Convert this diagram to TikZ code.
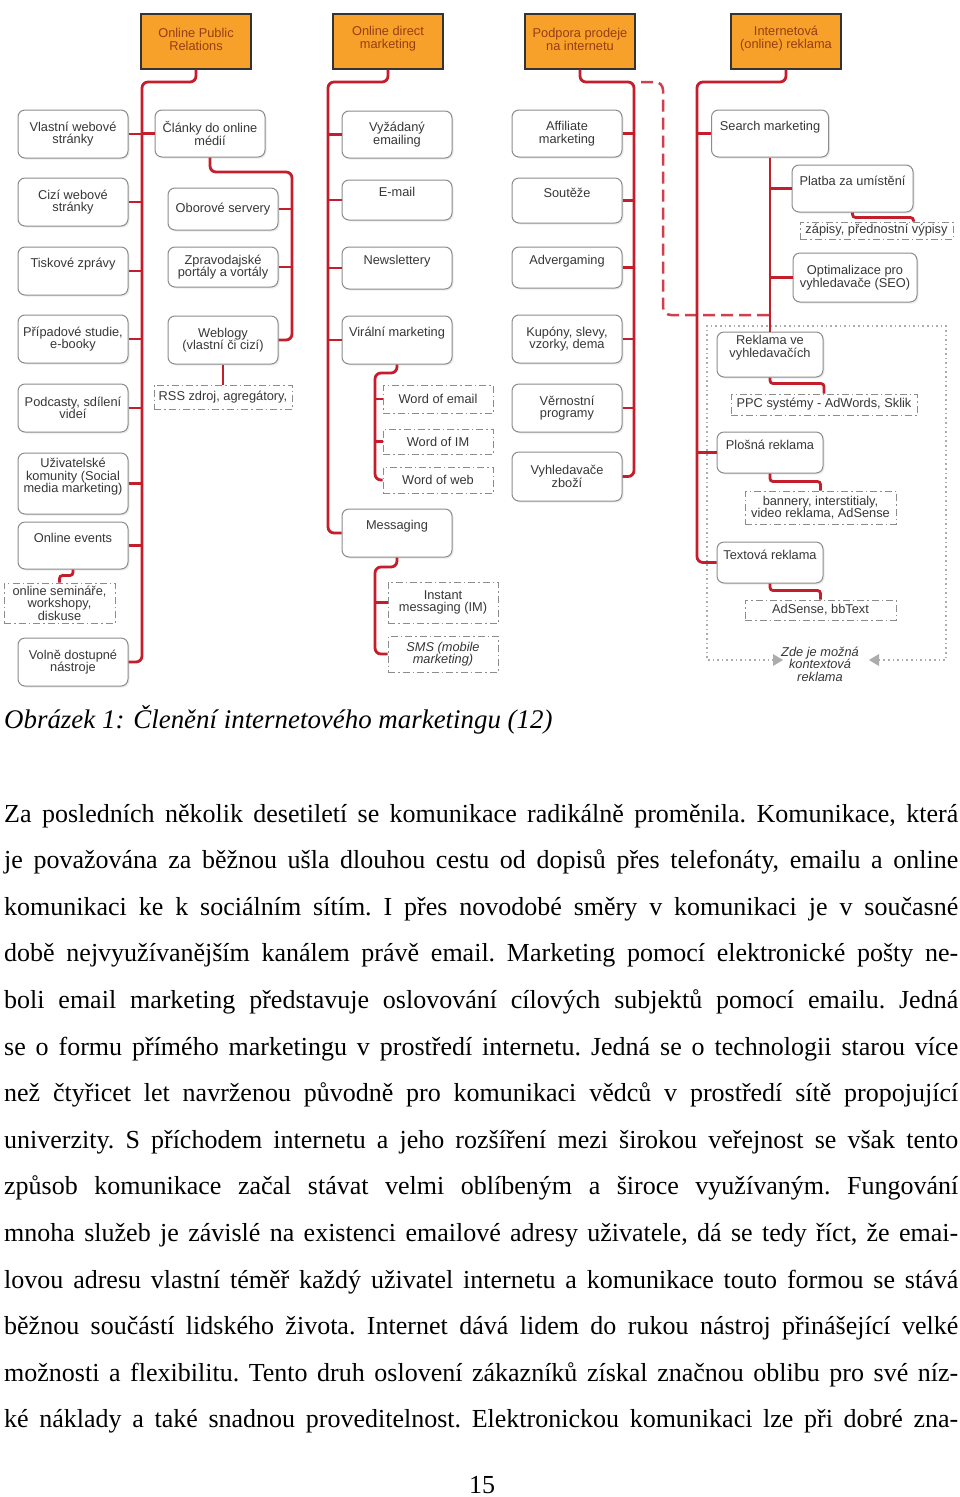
\documentclass[tikz,border=0pt]{standalone}
\usepackage{fontspec}
\setmainfont{Liberation Serif}
\newfontfamily\dfont{Liberation Sans}
\newfontfamily\bodyf{Liberation Serif}
\usetikzlibrary{shadows,calc}
\definecolor{hdr}{RGB}{247,160,42}
\definecolor{hdrtxt}{RGB}{150,62,20}
\definecolor{redl}{RGB}{196,30,45}
\definecolor{boxd}{RGB}{140,140,140}
\definecolor{dtxt}{RGB}{55,55,55}
\newcommand\bodyline[2]{\node[bodyl] (l#1) at (4,{822+46.6*(#1-1)}) {\frenchspacing\makebox[954pt][s]{#2}};}
\begin{document}
\begin{tikzpicture}[x=1pt,y=-1pt,
  hbox/.style={rectangle, draw=black!80, line width=1.3pt, fill=hdr, minimum width=110pt, minimum height=55pt, inner sep=0pt},
  htext/.style={inner sep=0pt, align=center, text=hdrtxt, font=\dfont\fontsize{12.8}{13}\selectfont, yshift=2.5pt},
  bx/.style={rectangle, rounded corners=7pt, draw=boxd, line width=1pt, fill=white, minimum width=110pt, inner sep=0pt, align=center, text=dtxt, font=\dfont\fontsize{12.8}{12.5}\selectfont, drop shadow={opacity=0.15, shadow xshift=1.5pt, shadow yshift=-1.5pt}},
  dbx/.style={rectangle, draw=boxd, line width=1pt, dash pattern=on 7pt off 3pt on 1.5pt off 3pt, fill=white, inner sep=0pt, align=center, text=dtxt, font=\dfont\fontsize{12.8}{12.5}\selectfont},
  conn/.style={draw=redl, line width=2.8pt, rounded corners=6pt},
  sconn/.style={draw=redl, line width=2.8pt, rounded corners=3pt},
  dconn/.style={draw=redl!85, line width=2.5pt, dash pattern=on 12pt off 6pt, rounded corners=8pt},
  bodyl/.style={anchor=base west, inner sep=0pt, font=\bodyf\fontsize{26}{30}\selectfont},
]
\useasboundingbox (0,0) rectangle (960,1497);
\fill[white] (0,0) rectangle (960,1497);

% headers
\node[hbox, label={[htext]center:Online Public\\Relations}] (h1) at (196,41.5) {};
\node[hbox, label={[htext]center:Online direct\\marketing}] (h2) at (388,41.5) {};
\node[hbox, label={[htext]center:Podpora prodeje\\na internetu}] (h3) at (580,41.5) {};
\node[hbox, label={[htext]center:Internetová\\(online) reklama}] (h4) at (786,41.5) {};

% column 1 left
\node[bx, minimum height=48pt] (vw) at (73,134) {Vlastní webové\\stránky};
\node[bx, minimum height=48pt] (cw) at (73,202) {Cizí webové\\stránky};
\node[bx, minimum height=48pt] (tz) at (73,271) {Tiskové zprávy\\\strut};
\node[bx, minimum height=48pt] (ps) at (73,339) {Případové studie,\\e-booky};
\node[bx, minimum height=48pt] (pc) at (73,408) {Podcasty, sdílení\\videí};
\node[bx, minimum height=61pt] (uk) at (73,483.5) {Uživatelské\\komunity (Social\\media marketing)\\\strut};
\node[bx, minimum height=47pt] (oe) at (73,545.5) {Online events\\\strut};
\node[dbx, minimum width=111pt, minimum height=40pt, font=\dfont\fontsize{12.8}{10.5}\selectfont] (os) at (59.5,603) {online semináře,\\workshopy,\\diskuse};
\node[bx, minimum height=48pt] (vd) at (73,662) {Volně dostupné\\nástroje};

% column 1 right
\node[bx, minimum height=47pt] (cl) at (210,133.5) {Články do online\\médií};
\node[bx, minimum height=42pt] (ob) at (223,209) {Oborové servery};
\node[bx, minimum height=40pt] (zp) at (223,267) {Zpravodajské\\portály a vortály};
\node[bx, minimum height=48pt] (wb) at (223,340) {Weblogy\\(vlastní či cizí)};
\node[dbx, minimum width=138pt, minimum height=24pt] (rss) at (223,397) {RSS zdroj, agregátory,};

% column 2
\node[bx, minimum height=47pt] (ve) at (397,134.5) {Vyžádaný\\emailing};
\node[bx, minimum height=40pt] (em) at (397,200) {E-mail\\\strut};
\node[bx, minimum height=42pt] (nl) at (397,268) {Newslettery\\\strut};
\node[bx, minimum height=48pt] (vm) at (397,340) {Virální marketing\\\strut};
\node[dbx, minimum width=110pt, minimum height=28pt] (woe) at (438,399) {Word of email};
\node[dbx, minimum width=110pt, minimum height=25pt] (wim) at (438,441.5) {Word of IM};
\node[dbx, minimum width=110pt, minimum height=26pt] (wow) at (438,480) {Word of web};
\node[bx, minimum height=48pt] (ms) at (397,533) {Messaging\\\strut};
\node[dbx, minimum width=110pt, minimum height=41pt] (im) at (443,602.5) {Instant\\messaging (IM)};
\node[dbx, minimum width=110pt, minimum height=36pt, font=\dfont\itshape\fontsize{12.8}{12.5}\selectfont] (sms) at (443,654) {SMS (mobile\\marketing)};

% column 3
\node[bx, minimum height=47pt] (af) at (567,133.5) {Affiliate\\marketing};
\node[bx, minimum height=45pt] (so) at (567,200.5) {Soutěže\\\strut};
\node[bx, minimum height=41pt] (ad) at (567,267.5) {Advergaming\\\strut};
\node[bx, minimum height=48pt] (ku) at (567,339) {Kupóny, slevy,\\vzorky, dema};
\node[bx, minimum height=48pt] (vp) at (567,408) {Věrnostní\\programy};
\node[bx, minimum height=49pt] (vz) at (567,476.5) {Vyhledavače\\zboží};

% column 4
\node[bx, minimum width=117pt, minimum height=47pt] (sm) at (770,133.5) {Search marketing\\\strut};
\node[bx, minimum width=121pt, minimum height=47pt] (pu) at (852.5,188.5) {Platba za umístění\\\strut};
\node[dbx, minimum width=153pt, minimum height=17pt] (zap) at (876.5,230.5) {zápisy, přednostní výpisy};
\node[bx, minimum width=124pt, minimum height=49pt] (seo) at (855,277.5) {Optimalizace pro\\vyhledavače (SEO)};
\node[bx, minimum width=106pt, minimum height=45pt] (rv) at (770,354.5) {Reklama ve\\vyhledavačích\\\strut};
\node[dbx, minimum width=186pt, minimum height=21pt] (ppc) at (824,404.5) {PPC systémy - AdWords, Sklik};
\node[bx, minimum width=106pt, minimum height=41pt] (pl) at (770,452.5) {Plošná reklama\\\strut};
\node[dbx, minimum width=151pt, minimum height=33pt] (ban) at (820.5,507.5) {bannery, interstitialy,\\video reklama, AdSense};
\node[bx, minimum width=106pt, minimum height=41pt] (tr) at (770,562.5) {Textová reklama\\\strut};
\node[dbx, minimum width=151pt, minimum height=20pt] (abb) at (820.5,610) {AdSense, bbText};

% dotted frame with arrows
\draw[gray!65, line width=1.6pt, dash pattern=on 1.6pt off 3pt] (774,660) -- (707,660) -- (707,326) -- (946,326) -- (946,660) -- (877,660);
\fill[gray!65] (773,654) -- (783,660) -- (773,666) -- cycle;
\fill[gray!65] (879,654) -- (869,660) -- (879,666) -- cycle;
\node[inner sep=0pt, align=center, text=dtxt, font=\dfont\itshape\fontsize{12.8}{12.5}\selectfont] (ctx) at (820,664) {Zde je možná\\kontextová\\reklama};

% bus coordinates
\coordinate (b1) at (142,82);
\coordinate (b1r) at (292,172);
\coordinate (b2) at (328,82);
\coordinate (b2a) at (375,373);
\coordinate (b2b) at (375,567);
\coordinate (b3) at (634,82);
\coordinate (b4) at (697,82);
\coordinate (dsA) at (641,82);
\coordinate (dsB) at (663,315);
\coordinate (dsC) at (770,315);

% column 1 connectors
\draw[conn] (h1.south) |- (b1) -- (b1 |- vd.east) -- (vd.east);
\foreach \n in {vw,cw,tz,ps,pc,uk,oe} \draw[conn] (\n.east) -- (\n.east -| b1);
\draw[conn] (cl.west) -- (cl.west -| b1);
\draw[conn] (cl.south) |- (b1r) -- (b1r |- wb.east) -- (wb.east);
\foreach \n in {ob,zp} \draw[conn] (\n.east) -- (\n.east -| b1r);
\draw[conn] (wb.south) -- (rss.north);
\draw[sconn] (oe.south) -- ++(0,6) -| (os.north);

% column 2 connectors
\draw[conn] (h2.south) |- (b2) -- (b2 |- ms.west) -- (ms.west);
\foreach \n in {ve,em,nl,vm} \draw[conn] (\n.west) -- (\n.west -| b2);
\draw[conn] (vm.south) |- (b2a) -- (b2a |- wow.west) -- (wow.west);
\foreach \n in {woe,wim} \draw[conn] (\n.west) -- (\n.west -| b2a);
\draw[conn] (ms.south) |- (b2b) -- (b2b |- sms.west) -- (sms.west);
\draw[conn] (im.west) -- (im.west -| b2b);

% column 3 connectors
\draw[conn] (h3.south) |- (b3) -- (b3 |- vz.east) -- (vz.east);
\foreach \n in {af,so,ad,ku,vp} \draw[conn] (\n.east) -- (\n.east -| b3);
\draw[dconn] (dsA) -| (dsB) -- (dsC);

% column 4 connectors
\draw[conn] (h4.south) |- (b4) -- (b4 |- tr.west) -- (tr.west);
\foreach \n in {sm,pl} \draw[conn] (\n.west) -- (\n.west -| b4);
\draw[conn] (sm.south) -- (rv.north);
\foreach \n in {pu,seo} \draw[conn] (\n.west) -- (\n.west -| sm.south);
\draw[sconn] (pu.south) -- ++(0,5) -| ([xshift=-40pt]zap.north east);
\draw[sconn] (rv.south) -- ++(0,6) -| (ppc.north);
\draw[sconn] (pl.south) -- ++(0,8) -| (ban.north);
\draw[sconn] (tr.south) -- ++(0,7) -| (abb.north);

% caption
\node[anchor=base west, inner sep=0pt, font=\itshape\fontsize{26.9}{30}\selectfont] (cap) at (4,728) {Obrázek 1: Členění internetového marketingu (12)};

% body text
\bodyline{1}{Za posledních několik desetiletí se komunikace radikálně proměnila. Komunikace, která}
\bodyline{2}{je považována za běžnou ušla dlouhou cestu od dopisů přes telefonáty, emailu a online}
\bodyline{3}{komunikaci ke k sociálním sítím. I přes novodobé směry v komunikaci je v současné}
\bodyline{4}{době nejvyužívanějším kanálem právě email. Marketing pomocí elektronické pošty ne-}
\bodyline{5}{boli email marketing představuje oslovování cílových subjektů pomocí emailu. Jedná}
\bodyline{6}{se o formu přímého marketingu v prostředí internetu. Jedná se o technologii starou více}
\bodyline{7}{než čtyřicet let navrženou původně pro komunikaci vědců v prostředí sítě propojující}
\bodyline{8}{univerzity. S příchodem internetu a jeho rozšíření mezi širokou veřejnost se však tento}
\bodyline{9}{způsob komunikace začal stávat velmi oblíbeným a široce využívaným. Fungování}
\bodyline{10}{mnoha služeb je závislé na existenci emailové adresy uživatele, dá se tedy říct, že emai-}
\bodyline{11}{lovou adresu vlastní téměř každý uživatel internetu a komunikace touto formou se stává}
\bodyline{12}{běžnou součástí lidského života. Internet dává lidem do rukou nástroj přinášející velké}
\bodyline{13}{možnosti a flexibilitu. Tento druh oslovení zákazníků získal značnou oblibu pro své níz-}
\bodyline{14}{ké náklady a také snadnou proveditelnost. Elektronickou komunikaci lze při dobré zna-}

\node[anchor=base, inner sep=0pt, font=\bodyf\fontsize{26}{30}\selectfont] (pg) at (482,1493) {15};
\end{tikzpicture}
\end{document}
